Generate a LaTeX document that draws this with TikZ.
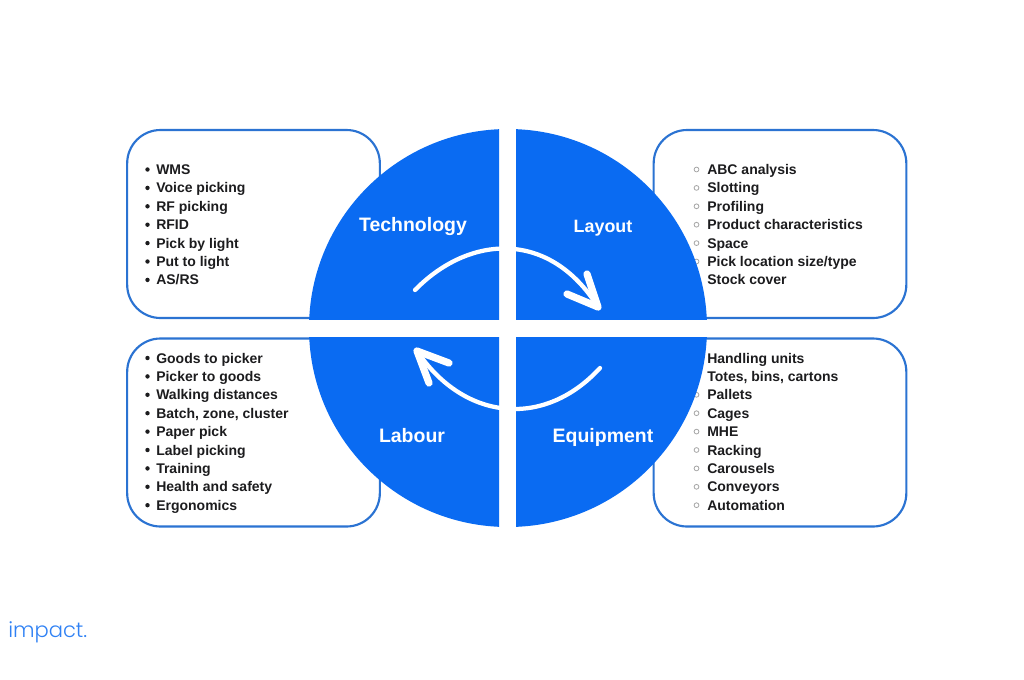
\documentclass[tikz,border=0pt]{standalone}
\usepackage{fontspec}
\setmainfont{Liberation Sans}
\newfontfamily\logofont{Poppins Light}
\usetikzlibrary{positioning}
\definecolor{mainblue}{HTML}{0A6BF2}
\definecolor{edgeblue}{HTML}{2B73D2}
\definecolor{inktext}{HTML}{1C1C1E}

\begin{document}
\begin{tikzpicture}[x=0.75pt, y=-0.75pt]
      \tikzstyle{panel} = [draw = edgeblue, line width = 1.6pt, rounded corners = 25pt, fill = white, minimum width = 189.5pt, minimum height = 141pt, inner sep = 0pt]
      \tikzstyle{item} = [anchor = base west, inner sep = 0pt, text = inktext, font = \bfseries\fontsize{10.5}{12}\selectfont]
      \tikzstyle{title} = [anchor = base, text = white, font = \bfseries\fontsize{14.6}{18}\selectfont]
      \tikzstyle{sweep} = [draw = white, line width = 3.2pt, line cap = round, line join = round]
      \tikzstyle{barb} = [draw = white, line width = 5.4pt, line cap = round, line join = round]
      \useasboundingbox (0,0) rectangle (1024,679);
      \node[panel] (tech) at (253.5,224) {};
      \node[panel] (lay) at (780,224) {};
      \node[panel] (lab) at (253.5,432.5) {};
      \node[panel] (equ) at (780,432.5) {};
      % hollow bullets sit under the disc
      \foreach \n in {0,...,6}
        \draw[gray!70, line width = 0.6pt] (696.5,{169.5+18.4*\n}) circle (2.4);
      \foreach \n in {0,...,8}
        \draw[gray!70, line width = 0.6pt] (696.5,{358+18.4*\n}) circle (2.4);
      % disc
      \foreach \xa/\ya/\xb/\yb in {300/120/499/319.5, 516/120/720/319.5, 300/337/499/535, 516/337/720/535} {
        \begin{scope}
          \clip (\xa,\ya) rectangle (\xb,\yb);
          \fill[mainblue] (508,328) circle (199);
        \end{scope}
      }
      \node[title] (techname) at (413,231) {Technology};
      \node[title, font = \bfseries\fontsize{13.4}{18}\selectfont] (layname) at (603,232) {Layout};
      \node[title] (labname) at (412,442) {Labour};
      \node[title] (equname) at (603,442) {Equipment};
      % lists
      \foreach \t [count=\i] in {WMS, Voice picking, RF picking, RFID, Pick by light, Put to light, AS/RS} {
        \node[item] (techitem\i) at (156,{174.5+18.4*(\i-1)}) {\t};
        \fill[inktext] (147.5,{169.5+18.4*(\i-1)}) circle (2.2);
      }
      \foreach \t [count=\i] in {ABC analysis, Slotting, Profiling, Product characteristics, Space, Pick location size/type, Stock cover}
        \node[item] (layitem\i) at (707,{174.5+18.4*(\i-1)}) {\t};
      \foreach \t [count=\i] in {Goods to picker, Picker to goods, Walking distances, {Batch, zone, cluster}, Paper pick, Label picking, Training, Health and safety, Ergonomics} {
        \node[item] (labitem\i) at (156,{363+18.4*(\i-1)}) {\t};
        \fill[inktext] (147.5,{358+18.4*(\i-1)}) circle (2.2);
      }
      \foreach \t [count=\i] in {Handling units, {Totes, bins, cartons}, Pallets, Cages, MHE, Racking, Carousels, Conveyors, Automation}
        \node[item] (equitem\i) at (707,{363+18.4*(\i-1)}) {\t};
      % turning arrows
      \coordinate (s1) at (415,290);
      \coordinate (t1) at (598,307);
      \coordinate (s2) at (600,368);
      \coordinate (t2) at (417,351);
      \draw[sweep] (s1) .. controls (470,234) and (550,230) .. (t1);
      \draw[barb] (567,294) -- (t1) -- (587,274);
      \draw[sweep] (s2) .. controls (545,428) and (465,422) .. (t2);
      \draw[barb] (449,363) -- (t2) -- (429,383);
      \node[anchor = base west, inner sep = 0pt, text = mainblue!85!white, font = \logofont\fontsize{15.8}{18}\selectfont] (logo) at (8,637) {impact.};
    \end{tikzpicture}
\end{document}
